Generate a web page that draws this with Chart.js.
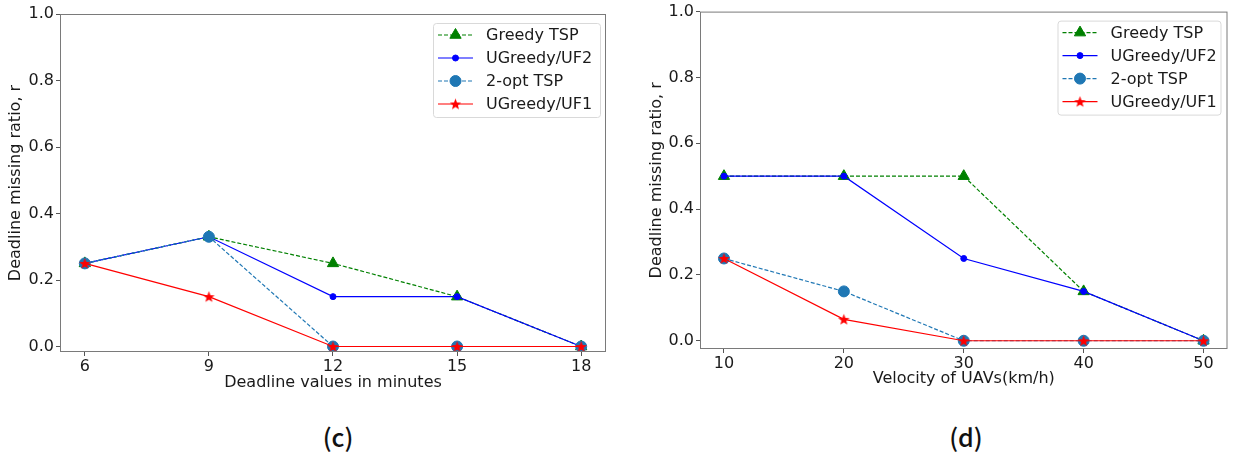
<!DOCTYPE html>
<html>
<head>
<meta charset="utf-8">
<script src="https://cdn.jsdelivr.net/npm/chart.js@4.4.0/dist/chart.umd.min.js"></script>
<style>
  html, body { margin: 0; padding: 0; background: #fff; }
  #page { position: relative; width: 1235px; height: 456px; overflow: hidden; }
  .panel { position: absolute; top: 0; height: 400px; }
  .caption {
    position: absolute; top: 418px; line-height: 30px;
    font: 500 25px "Noto Sans CJK KR", sans-serif; color: #111;
    transform: translateX(-50%);
  }
</style>
</head>
<body>
<div id="page">
  <div class="panel" style="left:0; width:620px;"><canvas id="chartC"></canvas></div>
  <div class="panel" style="left:620px; width:615px;"><canvas id="chartD"></canvas></div>
  <div class="caption" style="left:338px;">(c)</div>
  <div class="caption" style="left:966px;">(d)</div>
</div>
<script>
// ---- data ----
const seriesLabels = ['Greedy TSP', 'UGreedy/UF2', '2-opt TSP', 'UGreedy/UF1'];
const ratioTicks = [0, 0.2, 0.4, 0.6, 0.8, 1.0];

// (c) deadline values in minutes
const deadlineTicks = [6, 9, 12, 15, 18];
const deadlineGreedyTsp = [0.25, 0.33, 0.25, 0.15, 0];
const deadlineUf2 = [0.25, 0.33, 0.15, 0.15, 0];
const deadlineTwoOpt = [0.25, 0.33, 0, 0, 0];
const deadlineUf1 = [0.25, 0.15, 0, 0, 0];

// (d) velocity of UAVs
const velocityTicks = [10, 20, 30, 40, 50];
const velocityGreedyTsp = [0.5, 0.5, 0.5, 0.15, 0];
const velocityUf2 = [0.5, 0.5, 0.25, 0.15, 0];
const velocityTwoOpt = [0.25, 0.15, 0, 0, 0];
const velocityUf1 = [0.25, 0.065, 0, 0, 0];

const FONT = '"DejaVu Sans", sans-serif';
const FONT_SIZE = 16;
const TEXT = '#1a1a1a';

// filled 5-point star like matplotlib's '*' marker
function makeStar(size, color) {
  const c = document.createElement('canvas');
  c.width = size; c.height = size;
  const g = c.getContext('2d');
  const cx = size / 2, cy = size / 2 + 0.5, R = size / 2 - 0.5, r = R * 0.42;
  g.beginPath();
  for (let i = 0; i < 10; i++) {
    const rad = i % 2 ? r : R;
    const a = -Math.PI / 2 + i * Math.PI / 5;
    g.lineTo(cx + rad * Math.cos(a), cy + rad * Math.sin(a));
  }
  g.closePath();
  g.fillStyle = color;
  g.fill();
  return c;
}
const redStar = makeStar(13, '#ff0000');

const seriesStyles = [
  { color: '#008000', dash: [4, 2], point: 'triangle', radius: 6.5, order: 4 },
  { color: '#0000ff', dash: [], point: 'circle', radius: 3, order: 3 },
  { color: '#1f77b4', dash: [4, 2], point: 'circle', radius: 5.5, order: 2 },
  { color: '#ff0000', dash: [], point: redStar, radius: 6, order: 1 }
];

function drawMarker(ctx, ds, x, y) {
  ctx.save();
  ctx.setLineDash([]);
  ctx.fillStyle = ds.pointBackgroundColor;
  ctx.strokeStyle = ds.pointBorderColor;
  ctx.lineWidth = 1;
  const r = ds.pointRadius;
  if (ds.pointStyle instanceof HTMLCanvasElement) {
    ctx.drawImage(ds.pointStyle, x - ds.pointStyle.width / 2, y - ds.pointStyle.height / 2);
  } else if (ds.pointStyle === 'triangle') {
    ctx.beginPath();
    let a = 0;
    for (let i = 0; i < 3; i++) {
      ctx.lineTo(x + Math.sin(a) * r, y - Math.cos(a) * r);
      a += 2 * Math.PI / 3;
    }
    ctx.closePath(); ctx.fill(); ctx.stroke();
  } else {
    ctx.beginPath();
    ctx.arc(x, y, r, 0, Math.PI * 2);
    ctx.fill(); ctx.stroke();
  }
  ctx.restore();
}

// matplotlib-like frame and legend box in the upper right
const frameAndLegend = {
  id: 'frameAndLegend',
  afterDraw(chart, args, opts) {
    const { ctx, chartArea } = chart;
    ctx.save();
    ctx.strokeStyle = '#7a7a7a';
    ctx.lineWidth = 1;
    ctx.strokeRect(chartArea.left + 0.5, chartArea.top + 0.5,
      chartArea.right - chartArea.left - 1, chartArea.bottom - chartArea.top - 1);

    const w = opts.width, h = 94;
    const x0 = chartArea.right - opts.right - w;
    const y0 = chartArea.top + opts.top;
    ctx.beginPath();
    ctx.roundRect(x0 + 0.5, y0 + 0.5, w, h, 3);
    ctx.fillStyle = 'rgba(255,255,255,0.8)';
    ctx.fill();
    ctx.strokeStyle = '#d9d9d9';
    ctx.stroke();

    ctx.font = FONT_SIZE + 'px ' + FONT;
    ctx.textBaseline = 'middle';
    chart.data.datasets.forEach((ds, i) => {
      const y = y0 + 12 + i * 23;
      ctx.beginPath();
      ctx.setLineDash(ds.borderDash);
      ctx.strokeStyle = ds.borderColor;
      ctx.lineWidth = ds.borderWidth;
      ctx.moveTo(x0 + 5, y);
      ctx.lineTo(x0 + 40, y);
      ctx.stroke();
      ctx.setLineDash([]);
      drawMarker(ctx, ds, x0 + 22.5, y);
      ctx.fillStyle = TEXT;
      ctx.fillText(ds.label, x0 + 53, y + 1);
    });
    ctx.restore();
  }
};

function buildDatasets(xs, seriesValues) {
  return seriesValues.map((vals, i) => {
    const s = seriesStyles[i];
    return {
      label: seriesLabels[i],
      data: xs.map((x, j) => ({ x: x, y: vals[j] })),
      borderColor: s.color,
      backgroundColor: s.color,
      borderWidth: 1.2,
      borderDash: s.dash,
      pointStyle: s.point,
      pointRadius: s.radius,
      pointHoverRadius: s.radius,
      pointBackgroundColor: s.color,
      pointBorderColor: s.color,
      pointBorderWidth: 1,
      order: s.order,
      tension: 0,
      fill: false
    };
  });
}

function makeChart(id, cfg) {
  return new Chart(document.getElementById(id), {
    type: 'line',
    data: { datasets: buildDatasets(cfg.xs, cfg.series) },
    options: {
      responsive: true,
      maintainAspectRatio: false,
      animation: false,
      events: [],
      layout: { padding: cfg.padding },
      plugins: {
        legend: { display: false },
        tooltip: { enabled: false },
        frameAndLegend: cfg.legend
      },
      scales: {
        x: {
          type: 'linear',
          min: cfg.xMin, max: cfg.xMax,
          afterBuildTicks: s => { s.ticks = cfg.xs.map(v => ({ value: v })); },
          afterFit: s => { s.height = cfg.xAxisHeight; },
          grid: { drawOnChartArea: false, drawTicks: true, tickLength: 4, color: '#555' },
          border: { display: false },
          ticks: { font: { family: FONT, size: FONT_SIZE }, color: TEXT, padding: 1, maxRotation: 0 },
          title: {
            display: true, text: cfg.xTitle, color: TEXT,
            font: { family: FONT, size: FONT_SIZE }, padding: { top: 0, bottom: cfg.xTitlePad }
          }
        },
        y: {
          min: cfg.yMin, max: 1.0,
          afterBuildTicks: s => { s.ticks = ratioTicks.map(v => ({ value: v })); },
          afterFit: s => { s.width = cfg.yAxisWidth; },
          grid: { drawOnChartArea: false, drawTicks: true, tickLength: 4, color: '#555' },
          border: { display: false },
          ticks: {
            font: { family: FONT, size: FONT_SIZE }, color: TEXT, padding: 2,
            callback: v => Number(v).toFixed(1)
          },
          title: {
            display: true, text: 'Deadline missing ratio, r', color: TEXT,
            font: { family: FONT, size: FONT_SIZE }, padding: { top: cfg.yTitlePad, bottom: 0 }
          }
        }
      }
    },
    plugins: [frameAndLegend]
  });
}

makeChart('chartC', {
  xs: deadlineTicks,
  series: [deadlineGreedyTsp, deadlineUf2, deadlineTwoOpt, deadlineUf1],
  xMin: 5.4, xMax: 18.6, yMin: -0.0165,
  padding: { top: 14, right: 14, bottom: 0, left: 0 },
  xAxisHeight: 48, yAxisWidth: 60,
  xTitle: 'Deadline values in minutes', xTitlePad: 7.4, yTitlePad: 6.4,
  legend: { right: 6, top: 9, width: 167 }
});

makeChart('chartD', {
  xs: velocityTicks,
  series: [velocityGreedyTsp, velocityUf2, velocityTwoOpt, velocityUf1],
  xMin: 8, xMax: 52, yMin: -0.025,
  padding: { top: 10, right: 1, bottom: 0, left: 0 },
  xAxisHeight: 51, yAxisWidth: 80,
  xTitle: 'Velocity of UAVs(km/h)', xTitlePad: 11.4, yTitlePad: 27.4,
  legend: { right: 7, top: 9, width: 163 }
});
</script>
</body>
</html>
